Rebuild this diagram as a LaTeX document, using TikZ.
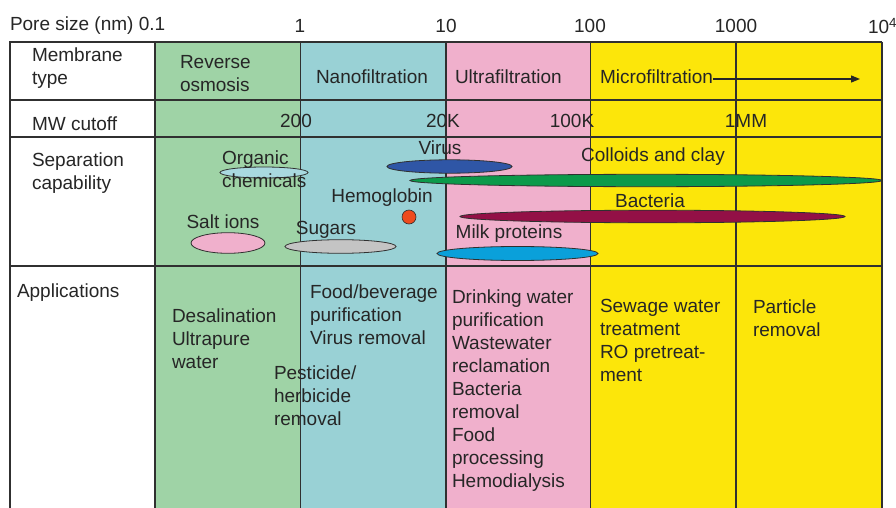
\documentclass[tikz,border=0pt]{standalone}
\usepackage{fontspec}
\setmainfont{Liberation Sans}
\usetikzlibrary{arrows.meta}
\definecolor{txtc}{HTML}{262626}
\definecolor{linec}{HTML}{303030}
\definecolor{rogreen}{HTML}{9FD3A6}
\definecolor{nfcyan}{HTML}{99D1D5}
\definecolor{ufpink}{HTML}{F0B0CC}
\definecolor{mfyellow}{HTML}{FCE60A}
\definecolor{orgc}{HTML}{A9D9E0}
\definecolor{virusc}{HTML}{2F56A6}
\definecolor{colloidc}{HTML}{0C9A4A}
\definecolor{bactc}{HTML}{931046}
\definecolor{milkc}{HTML}{0AA0DA}
\definecolor{sugarc}{HTML}{C4C4C4}
\definecolor{hemoc}{HTML}{EE4B1E}
\begin{document}
\begin{tikzpicture}[x=1pt,y=-1pt,
  font=\fontsize{19}{23}\selectfont,
  txt/.style={text=txtc, inner sep=0pt, outer sep=0pt},
  blk/.style={txt, align=left, anchor=north west},
  lbl/.style={txt, anchor=west},
  ctr/.style={txt, anchor=center},
  thinline/.style={draw=linec, line width=1.3pt},
  thickline/.style={draw=linec, line width=2.6pt},
  blob/.style={draw=linec, line width=0.8pt}]
\useasboundingbox (0,0) rectangle (896,508);
\fill[white] (0,0) rectangle (896,508);
% coloured columns
\fill[rogreen] (155,42) rectangle (300.5,508);
\fill[nfcyan] (300.5,42) rectangle (446,508);
\fill[ufpink] (446,42) rectangle (590.5,508);
\fill[mfyellow] (590.5,42) rectangle (882,508);
% grid lines
\draw[thinline] (155,42) -- (882,42);
\draw[thinline] (155,100) -- (882,100);
\draw[thinline] (155,137) -- (882,137);
\draw[thinline] (155,266) -- (882,266);
\draw[thinline] (300.5,42) -- (300.5,508);
\draw[thinline] (446,42) -- (446,508);
\draw[thinline] (590.5,42) -- (590.5,508);
\draw[thinline] (736,42) -- (736,508);
\draw[thinline] (882,42) -- (882,508);
% header column
\draw[thickline] (10,508) -- (10,42) -- (155,42) -- (155,508);
\draw[thickline] (10,100) -- (155,100);
\draw[thickline] (10,137) -- (155,137);
\draw[thickline] (10,266) -- (155,266);
% pore size axis
\node[lbl] (pore) at (10,26) {Pore size (nm) 0.1};
\node[ctr] (p1) at (300,26) {1};
\node[ctr] (p10) at (446,26) {10};
\node[ctr] (p100) at (590,26) {100};
\node[ctr] (p1000) at (736,26) {1000};
\node[lbl] (p10k) at (868,26) {10\textsuperscript{4}};
% header labels
\node[blk] (hmem) at (32,48) {Membrane\\type};
\node[lbl] (hmw) at (32,124) {MW cutoff};
\node[blk] (hsep) at (32,153) {Separation\\capability};
\node[blk] (happ) at (17,284) {Applications};
% membrane types
\node[blk] (ro) at (180,55) {Reverse\\osmosis};
\node[lbl] (nf) at (316,77) {Nanofiltration};
\node[lbl] (uf) at (455,77) {Ultrafiltration};
\node[lbl] (mf) at (600,77) {Microfiltration};
\coordinate (mfend) at (860,79);
\draw[draw=txtc, line width=1.3pt, -{Triangle[length=9pt,width=7pt]}] (mf.east) ++(0,2) -- (mfend);
% MW cutoff
\node[ctr] (mw200) at (296,121) {200};
\node[ctr] (mw20k) at (443,121) {20K};
\node[ctr] (mw100k) at (572,121) {100K};
\node[ctr] (mw1mm) at (746,121) {1MM};
% separation capability
\draw[blob, fill=colloidc] (646,180.5) ellipse [x radius=236, y radius=6.2];
\draw[blob, fill=virusc] (449.5,166.5) ellipse [x radius=62.5, y radius=6.7];
\draw[blob, fill=orgc] (264,172.5) ellipse [x radius=44, y radius=5.5];
\draw[blob, fill=bactc] (652.5,216.5) ellipse [x radius=192.5, y radius=6.3];
\draw[blob, fill=ufpink] (228,243) ellipse [x radius=37, y radius=10.3];
\draw[blob, fill=sugarc] (340.5,246.5) ellipse [x radius=55.5, y radius=6.8];
\draw[blob, fill=milkc] (517.5,253.5) ellipse [x radius=80.5, y radius=7];
\fill[hemoc, draw=linec, line width=0.6pt] (409,217) circle [radius=7];
\node[blk] (org) at (222,151) {Organic\\chemicals};
\node[ctr] (virus) at (440,148) {Virus};
\node[ctr] (colloid) at (653,157) {Colloids and clay};
\node[ctr] (hemo) at (382,198) {Hemoglobin};
\node[ctr] (bact) at (650,201) {Bacteria};
\node[ctr] (salt) at (223,222) {Salt ions};
\node[ctr] (sugar) at (326,230) {Sugars};
\node[ctr] (milk) at (509,234) {Milk proteins};
% applications
\node[blk] (aro) at (172,309) {Desalination\\Ultrapure\\water};
\node[blk] (anf) at (310,285) {Food/beverage\\purification\\Virus removal};
\node[blk] (apest) at (274,366) {Pesticide/\\herbicide\\removal};
\node[blk] (auf) at (452,290) {Drinking water\\purification\\Wastewater\\reclamation\\Bacteria\\removal\\Food\\processing\\Hemodialysis};
\node[blk] (amf) at (600,299) {Sewage water\\treatment\\RO pretreat-\\ment};
\node[blk] (apart) at (753,300) {Particle\\removal};
\end{tikzpicture}
\end{document}
